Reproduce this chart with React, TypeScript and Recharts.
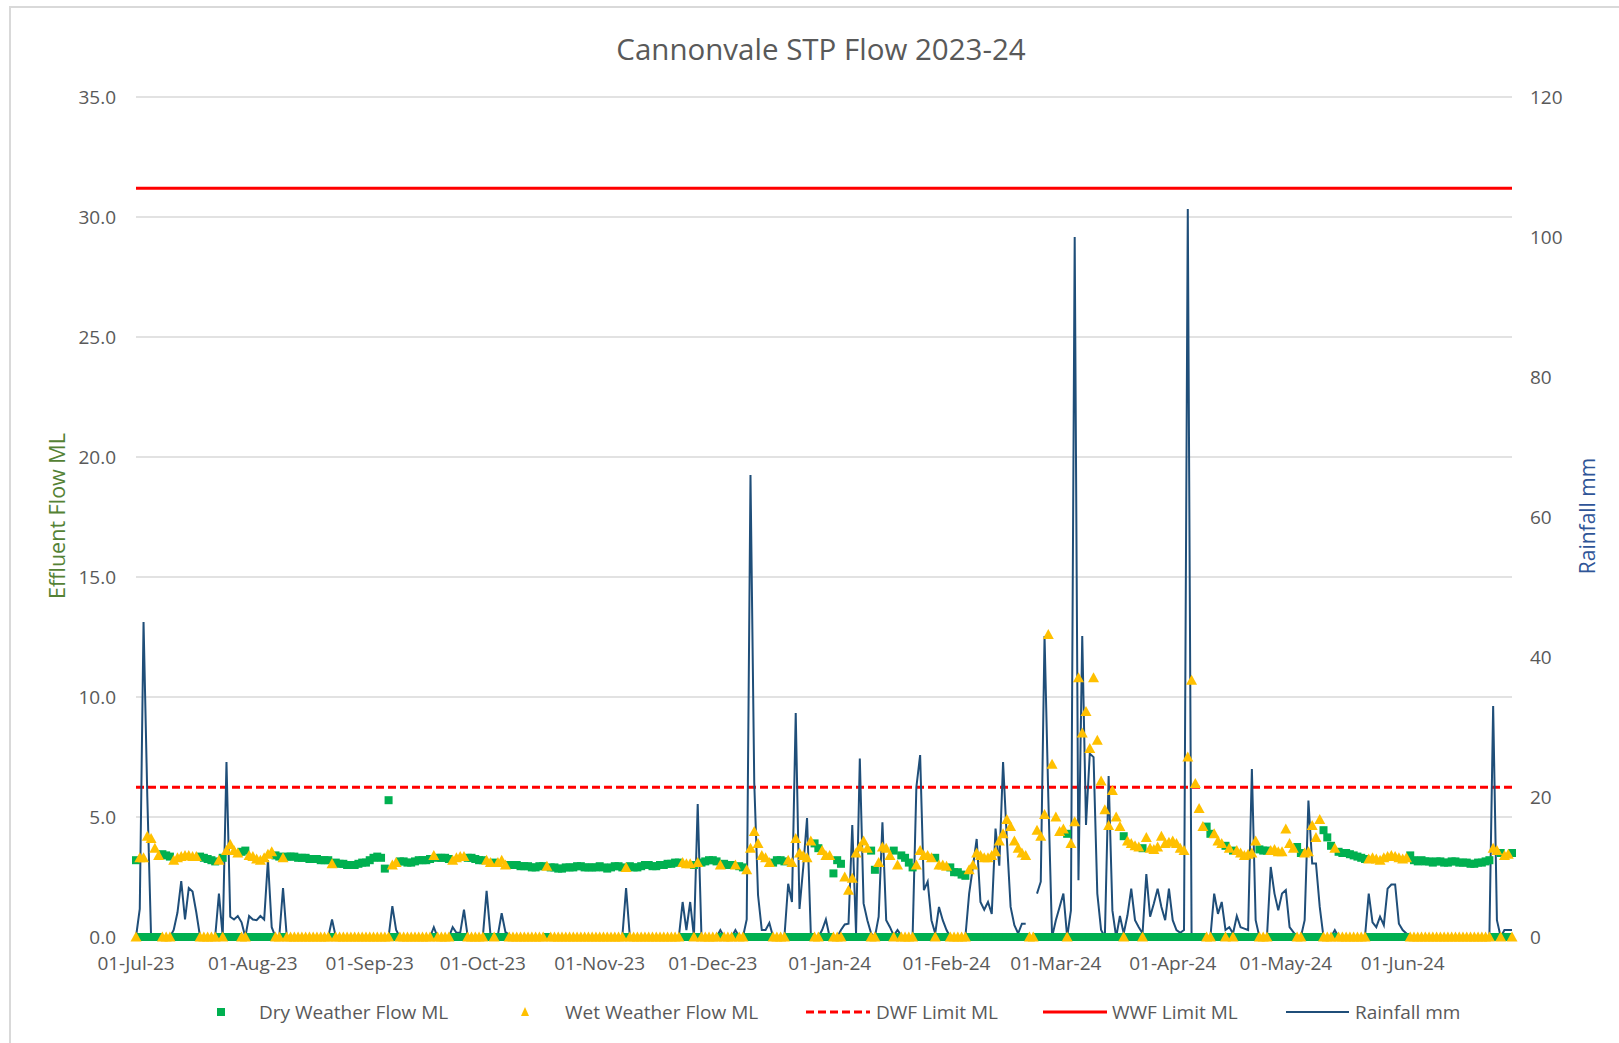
import React from "react";
import {
  ComposedChart,
  Line,
  XAxis,
  YAxis,
  CartesianGrid,
  ReferenceLine,
} from "recharts";

// daily effluent flow (ML), 01-Jul-23 .. 30-Jun-24, null = no reading
const dailyFlow: (number | null)[] = [
  3.2, 3.3, 3.3, 4.2, 4.1, 3.7, 3.4, 3.45, 3.4, 3.35,
  3.2, 3.3, 3.35, 3.4, 3.4, 3.35, 3.35, 3.35, 3.3, 3.25,
  3.2, 3.15, 3.2, 3.3, 3.6, 3.85, 3.6, 3.5, 3.55, 3.6,
  3.4, 3.35, 3.25, 3.2, 3.3, 3.45, 3.55, 3.4, 3.35, 3.3,
  3.35, 3.35, 3.35, 3.3, 3.3, 3.3, 3.25, 3.25, 3.25, 3.2,
  3.2, 3.2, 3.05, 3.1, 3.05, 3.05, 3.0, 3.0, 3.0, 3.05,
  3.1, 3.1, 3.2, 3.3, 3.35, 3.3, 2.85, 5.7, 3.0, 3.1,
  3.15, 3.15, 3.1, 3.1, 3.15, 3.2, 3.2, 3.2, 3.25, 3.4,
  3.3, 3.3, 3.3, 3.25, 3.2, 3.3, 3.35, 3.35, 3.3, 3.3,
  3.25, 3.2, 3.2, 3.2, 3.1, 3.1, 3.1, 3.2, 3.0, 3.0,
  3.0, 3.0, 2.95, 2.95, 2.95, 2.9, 2.9, 2.95, 2.95, 2.95,
  2.9, 2.9, 2.85, 2.85, 2.9, 2.9, 2.9, 2.95, 2.95, 2.9,
  2.9, 2.9, 2.9, 2.95, 2.9, 2.85, 2.9, 2.95, 2.95, 2.9,
  2.9, 2.95, 2.9, 2.9, 2.95, 3.0, 3.0, 2.95, 2.95, 3.0,
  3.0, 3.05, 3.05, 3.1, 3.1, 3.1, 3.05, 3.05, 3.0, 3.1,
  3.1, 3.15, 3.2, 3.2, 3.15, 3.0, 3.05, 3.0, 3.0, 3.0,
  2.95, 2.9, 2.8, 3.7, 4.4, 3.9, 3.4, 3.3, 3.1, 3.1,
  3.2, 3.2, 3.15, 3.2, 3.1, 4.1, 3.5, 3.4, 3.3, 4.0,
  3.9, 3.7, 3.6, 3.4, 3.4, 2.65, 3.2, 3.05, 2.5, 1.95,
  2.45, 3.5, 3.75, 4.0, 3.7, 3.6, 2.8, 3.1, 3.75, 3.7,
  3.4, 3.6, 3.0, 3.4, 3.3, 3.1, 2.9, 3.0, 3.6, 3.4,
  3.4, 3.3, 3.3, 3.0, 3.0, 2.95, 2.9, 2.7, 2.7, 2.6,
  2.55, 2.8, 3.0, 3.5, 3.4, 3.3, 3.3, 3.4, 3.55, 4.0,
  4.3, 4.9, 4.6, 4.0, 3.7, 3.5, 3.4, null, null, 4.45,
  4.2, 5.1, 12.6, 7.2, 5.0, 4.4, 4.5, 4.3, 3.9, 4.8,
  10.8, 8.5, 9.4, 7.85, 10.8, 8.2, 6.5, 5.3, 4.65, 6.1,
  5.0, 4.6, 4.2, 4.0, 3.9, 3.8, 3.75, 3.7, 4.15, 3.7,
  3.65, 3.75, 4.2, 3.9, 3.95, 4.0, 3.9, 3.7, 3.6, 7.5,
  10.7, 6.4, 5.35, 4.6, 4.6, 4.3, 4.3, 4.0, 3.9, 3.8,
  3.7, 3.6, 3.6, 3.5, 3.4, 3.45, 3.5, 4.0, 3.65, 3.6,
  3.6, 3.6, 3.65, 3.55, 3.55, 4.5, 3.9, 3.7, 3.75, 3.5,
  3.5, 3.55, 4.65, 4.15, 4.9, 4.45, 4.15, 3.8, 3.7, 3.55,
  3.5, 3.5, 3.45, 3.4, 3.35, 3.3, 3.25, 3.25, 3.3, 3.25,
  3.2, 3.3, 3.35, 3.4, 3.35, 3.3, 3.25, 3.3, 3.4, 3.2,
  3.15, 3.2, 3.15, 3.15, 3.1, 3.15, 3.15, 3.1, 3.1, 3.15,
  3.15, 3.1, 3.1, 3.1, 3.05, 3.05, 3.1, 3.1, 3.15, 3.2,
  3.7, 3.6, 3.5, 3.4, 3.45, 3.5,
];

// D = dry weather day, W = wet weather day, x = no reading (10 days per row)
const weatherType = [
  "DWWWWWWDDD", "WWWWWWWDDD", "DDWDWWWWDD", "WWWWWWWDDW", "DDDDDDDDDD",
  "DDWDDDDDDD", "DDDDDDDDWW", "DDDDDDDDDW", "DDDDWWWWDD", "DDDWWDWWWD",
  "DDDDDDDDDW", "DDDDDDDDDD", "DDDDDDDDDD", "WDDDDDDDDD", "DDDDDWWWDW",
  "DDDDDWDDDW", "DDWWWWWWWD", "DDDWWWWWWW", "DDWWWDDDWW", "WWWWWDDWWW",
  "WDWDDDDWWW", "WWDWWWDDDD", "DWWWWWWWWW", "WWWWWWWxxW", "WWWWWWWDWW",
  "WWWWWWWWWW", "WWDWWWWDWW", "WWWWWWWWWW", "WWWWDDWWWD", "WDWWWWWWDD",
  "DWWWWWWWDD", "WWWWWDDDWD", "DDDDDDDWWW", "WWWWWWWWDD", "DDDDDDDDDD",
  "DDDDDDDDDD", "WWDWWD",
].join("");

// daily rainfall (mm), null = no reading
const rainfall: (number | null)[] = [
  0, 4, 45, 20, 0, 0, 0, 0, 0, 0,
  1, 3.5, 8, 2.5, 7, 6.5, 3.5, 0, 0, 0,
  0, 0, 6.2, 0, 25, 2.9, 2.5, 3, 2.1, 0,
  3, 2.5, 2.4, 3, 2.5, 11, 1.4, 0, 0, 7,
  0, 0, 0, 0, 0, 0, 0, 0, 0, 0,
  0, 0, 2.5, 0, 0, 0, 0, 0, 0, 0,
  0, 0, 0, 0, 0, 0, 0, 0, 4.4, 1,
  0, 0, 0, 0, 0, 0, 0, 0, 0, 1.4,
  0, 0, 0, 0, 1.4, 0.6, 0.6, 3.9, 0, 0,
  0, 0, 0, 6.6, 0.5, 0, 0.3, 3.4, 0.7, 0.3,
  0, 0, 0, 0, 0, 0, 0, 0, 0, 0.4,
  0, 0, 0, 0, 0, 0, 0, 0, 0, 0,
  0, 0, 0, 0, 0, 0, 0, 0, 0, 0,
  7, 0, 0, 0, 0, 0, 0, 0, 0, 0,
  0, 0, 0, 0, 0, 5, 1, 5, 0, 19,
  0, 0, 0, 0, 0, 1, 0, 0, 0, 1,
  0, 0, 2.5, 66, 22, 6, 1, 1, 2, 0,
  0, 0, 0, 7.6, 5, 32, 4, 10, 17, 0.5,
  0, 0, 1, 2.5, 0, 0, 0, 1, 1.8, 1.9,
  16, 0.5, 25.5, 4.8, 2.4, 0.5, 0, 2.9, 16.4, 2.4,
  1.4, 0.2, 1, 0.2, 0, 0, 0, 21.4, 26, 6.7,
  7.9, 2.4, 0.5, 4.3, 2.4, 1, 0, 0, 0, 0,
  0, 6.2, 10, 14, 5, 3.9, 5, 3.3, 15.5, 10.2,
  25, 14, 4.3, 1.7, 0.5, 1.9, 1.9, null, null, 6.2,
  7.9, 43, 20, 0, 2.4, 4.3, 6.2, 0, 3.8, 100,
  8.1, 43, 16, 26.2, 25.7, 6.2, 1, 0, 23, 3.8,
  0, 3, 0.5, 3.1, 6.9, 2.4, 1.4, 0.5, 9, 2.9,
  4.8, 6.9, 4.3, 2.4, 6.9, 2.4, 1, 0.6, 1, 104,
  0.5, 0.2, 0, 0, 0, 0, 6.2, 3.3, 5, 1,
  1.4, 0.5, 3, 1.4, 1.2, 1, 24, 2.4, 0, 0,
  0, 10, 6.2, 3.8, 6.2, 6.7, 1.4, 0.7, 0, 0,
  2.4, 19.5, 10.5, 10.5, 4.3, 0, 0, 0, 1, 0,
  0, 0, 0, 0, 0, 0, 0, 6.2, 2.1, 1.4,
  2.9, 1.7, 6.9, 7.5, 7.5, 1.9, 1, 0.5, 0, 0,
  0, 0, 0, 0, 0, 0, 0, 0, 0, 0,
  0, 0, 0, 0, 0, 0, 0, 0, 0, 0,
  33, 2.4, 0, 1, 1, 1,
];

const DWF_LIMIT = 6.24;
const WWF_LIMIT = 31.2;

const monthStarts = [0, 31, 62, 92, 123, 153, 184, 215, 244, 275, 305, 336];
const monthLabels = [
  "01-Jul-23", "01-Aug-23", "01-Sep-23", "01-Oct-23", "01-Nov-23", "01-Dec-23",
  "01-Jan-24", "01-Feb-24", "01-Mar-24", "01-Apr-24", "01-May-24", "01-Jun-24",
];
const flowTicks = [0, 5, 10, 15, 20, 25, 30, 35];
const rainTicks = [0, 20, 40, 60, 80, 100, 120];

const data = rainfall.map((rain, i) => {
  const t = weatherType[i];
  const f = dailyFlow[i];
  return {
    day: i,
    dry: t === "D" ? f : t === "W" ? 0 : null,
    wet: t === "W" ? f : 0,
    rain,
  };
});

const FONT = "'Open Sans', sans-serif";
const GREY = "#595959";
const GREEN = "#00b050";
const YELLOW = "#ffc000";
const BLUE = "#1f4e79";
const RED = "#ff0000";

const Square = (p: any) => {
  if (p.cx == null || p.cy == null) return <g key={p.index} />;
  return <rect key={p.index} x={p.cx - 4} y={p.cy - 4} width={8} height={8} fill={GREEN} />;
};

const Triangle = (p: any) => {
  if (p.cx == null || p.cy == null) return <g key={p.index} />;
  const { cx, cy } = p;
  return (
    <polygon
      key={p.index}
      points={`${cx},${cy - 5.5} ${cx - 5.5},${cy + 4.5} ${cx + 5.5},${cy + 4.5}`}
      fill={YELLOW}
    />
  );
};

function LegendItem({ icon, label, left }: { icon: React.ReactNode; label: string; left: number }) {
  return (
    <div style={{ position: "absolute", left, top: 998, height: 28, display: "flex", alignItems: "center" }}>
      {icon}
      <span style={{ fontSize: 19, color: GREY, whiteSpace: "nowrap" }}>{label}</span>
    </div>
  );
}

export default function App() {
  return (
    <div style={{ position: "absolute", left: 0, top: 0, width: 1619, height: 1043, background: "#fff", fontFamily: FONT, overflow: "hidden" }}>
      <div style={{ position: "absolute", left: 9, top: 6, width: 1700, height: 1100, borderTop: "2px solid #d9d9d9", borderLeft: "2px solid #d9d9d9" }} />
      <div style={{ position: "absolute", left: 0, width: 1642, top: 28, textAlign: "center", fontSize: 29.5, color: GREY }}>
        Cannonvale STP Flow 2023-24
      </div>
      <div style={{ position: "absolute", left: 56, top: 516, transform: "translate(-50%, -50%) rotate(-90deg)", fontSize: 21.5, color: "#548235", whiteSpace: "nowrap" }}>
        Effluent Flow ML
      </div>
      <div style={{ position: "absolute", left: 1587, top: 516, transform: "translate(-50%, -50%) rotate(-90deg)", fontSize: 21, color: "#2f5597", whiteSpace: "nowrap" }}>
        Rainfall mm
      </div>
      <div style={{ position: "absolute", left: 0, top: 0 }}>
        <ComposedChart
          width={1619}
          height={1043}
          data={data}
          margin={{ top: 97, right: 47, bottom: 76, left: 56 }}
        >
          <CartesianGrid yAxisId="left" vertical={false} stroke="#d9d9d9" strokeWidth={1.5} />
          <XAxis
            dataKey="day"
            type="number"
            domain={[0, 365]}
            ticks={monthStarts}
            interval={0}
            tickFormatter={(v: number) => monthLabels[monthStarts.indexOf(v)]}
            tick={{ fontSize: 19, fill: GREY, fontFamily: FONT }}
            axisLine={{ stroke: "#d9d9d9", strokeWidth: 1.5 }}
            tickLine={false}
            tickSize={0}
            tickMargin={20}
            height={30}
          />
          <YAxis
            yAxisId="left"
            domain={[0, 35]}
            ticks={flowTicks}
            tickFormatter={(v: number) => v.toFixed(1)}
            tick={{ fontSize: 19, fill: GREY, fontFamily: FONT }}
            axisLine={false}
            tickLine={false}
            tickSize={0}
            tickMargin={20}
            width={80}
          />
          <YAxis
            yAxisId="right"
            orientation="right"
            domain={[0, 120]}
            ticks={rainTicks}
            tick={{ fontSize: 19, fill: GREY, fontFamily: FONT, textAnchor: "start" }}
            axisLine={false}
            tickLine={false}
            tickSize={0}
            tickMargin={18}
            width={60}
          />
          <Line
            yAxisId="left"
            dataKey="dry"
            stroke="none"
            dot={Square}
            activeDot={false}
            isAnimationActive={false}
          />
          <Line
            yAxisId="left"
            dataKey="wet"
            stroke="none"
            dot={Triangle}
            activeDot={false}
            isAnimationActive={false}
          />
          <ReferenceLine yAxisId="left" y={DWF_LIMIT} stroke={RED} strokeWidth={3} strokeDasharray="8 4" />
          <ReferenceLine yAxisId="left" y={WWF_LIMIT} stroke={RED} strokeWidth={3} />
          <Line
            yAxisId="right"
            dataKey="rain"
            stroke={BLUE}
            strokeWidth={2}
            dot={false}
            activeDot={false}
            connectNulls={false}
            isAnimationActive={false}
          />
        </ComposedChart>
      </div>
      <LegendItem
        left={217}
        label="Dry Weather Flow ML"
        icon={<svg width={42} height={10}><rect x={0} y={1} width={8} height={8} fill={GREEN} /></svg>}
      />
      <LegendItem
        left={520}
        label="Wet Weather Flow ML"
        icon={<svg width={45} height={12}><polygon points="5,1 1,10 9,10" fill={YELLOW} /></svg>}
      />
      <LegendItem
        left={806}
        label="DWF Limit ML"
        icon={<svg width={70} height={6}><line x1={0} y1={3} x2={64} y2={3} stroke={RED} strokeWidth={3} strokeDasharray="8 4" /></svg>}
      />
      <LegendItem
        left={1043}
        label="WWF Limit ML"
        icon={<svg width={69} height={6}><line x1={0} y1={3} x2={64} y2={3} stroke={RED} strokeWidth={3} /></svg>}
      />
      <LegendItem
        left={1286}
        label="Rainfall mm"
        icon={<svg width={69} height={6}><line x1={0} y1={3} x2={63} y2={3} stroke={BLUE} strokeWidth={2} /></svg>}
      />
    </div>
  );
}
